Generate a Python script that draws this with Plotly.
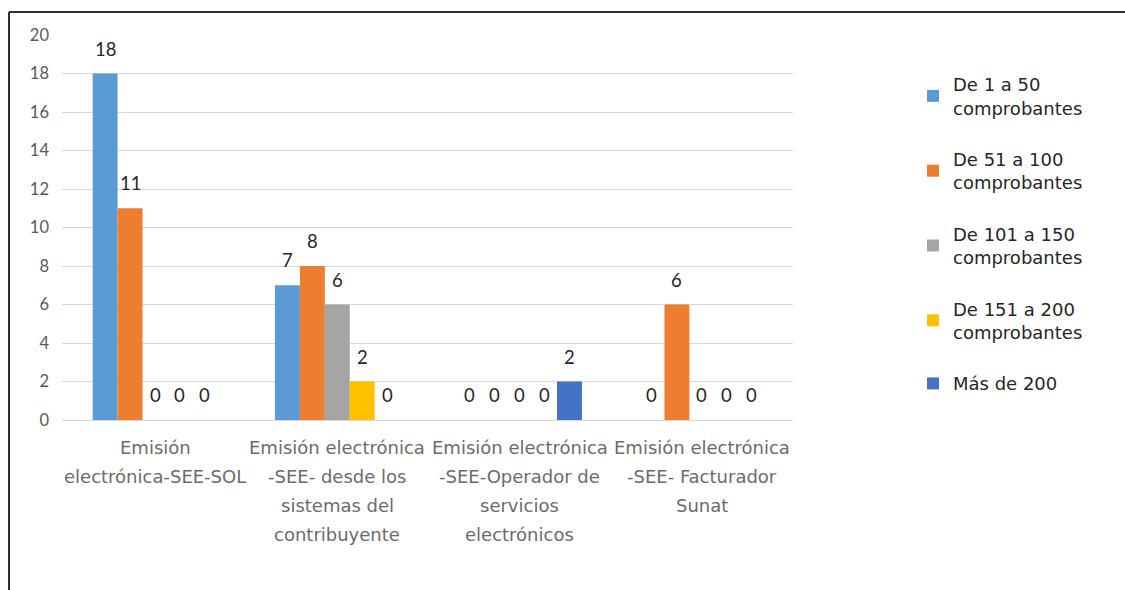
import plotly.graph_objects as go

# Categories (each entry split into the lines it is printed on)
categorias = ["SEE-SOL", "Contribuyente", "OSE", "Facturador"]
categoria_lineas = [
    ["Emisión", "electrónica-SEE-SOL"],
    ["Emisión electrónica", "-SEE- desde los", "sistemas del", "contribuyente"],
    ["Emisión electrónica", "-SEE-Operador de", "servicios", "electrónicos"],
    ["Emisión electrónica", "-SEE- Facturador", "Sunat"],
]

# Series
series_nombres = [
    "De 1 a 50<br>comprobantes",
    "De 51 a 100<br>comprobantes",
    "De 101 a 150<br>comprobantes",
    "De 151 a 200<br>comprobantes",
    "Más de 200",
]
de_1_a_50 = [18, 7, 0, 0]
de_51_a_100 = [11, 8, 0, 6]
de_101_a_150 = [0, 6, 0, 0]
de_151_a_200 = [0, 2, 0, 0]
mas_de_200 = [0, 0, 2, 0]
series_valores = [de_1_a_50, de_51_a_100, de_101_a_150, de_151_a_200, mas_de_200]
colores = ["#5B9BD5", "#ED7D31", "#A5A5A5", "#FFC000", "#4472C4"]

y_ticks = [0, 2, 4, 6, 8, 10, 12, 14, 16, 18, 20]

NUM_FONT = "Lato"
TXT_FONT = "DejaVu Sans"
W, H = 1125, 590
L, R, T, B = 62, 332, 35, 170
BARGAP = 0.316

fig = go.Figure()
for i, (nombre, vals, col) in enumerate(zip(series_nombres, series_valores, colores)):
    fig.add_trace(go.Bar(
        x=categorias, y=vals, name=nombre,
        marker=dict(color=col, line=dict(width=0)),
        legendgroup=f"g{i}",
    ))

# Value labels above each bar, positioned on the grouped-bar offsets
n = len(series_valores)
grupo = 1 - BARGAP
for i, vals in enumerate(series_valores):
    off = -grupo / 2 + (i + 0.5) * grupo / n
    for j, v in enumerate(vals):
        fig.add_annotation(
            x=j + off, y=v, xref="x", yref="y", text=str(v),
            showarrow=False, yshift=25,
            font=dict(family=NUM_FONT, size=18.5, color="#262626"),
        )

# Category labels, one annotation per printed line
for j, lineas in enumerate(categoria_lineas):
    for k, linea in enumerate(lineas):
        fig.add_annotation(
            x=j, y=0, xref="x", yref="y", text=linea,
            showarrow=False, yshift=-27 - 29 * k,
            font=dict(family=TXT_FONT, size=18, color="#6B6B6B"),
        )

# Outer frame (top and left edges)
pw, ph = W - L - R, H - T - B
def px_x(p):
    return (p - L) / pw
def px_y(p):
    return (H - B - p) / ph
fig.add_shape(type="line", xref="paper", yref="paper",
              x0=px_x(9), x1=px_x(W + 5), y0=px_y(12), y1=px_y(12),
              line=dict(color="#303030", width=2))
fig.add_shape(type="line", xref="paper", yref="paper",
              x0=px_x(9), x1=px_x(9), y0=px_y(12), y1=px_y(H + 5),
              line=dict(color="#303030", width=2))

fig.update_layout(
    width=W, height=H,
    margin=dict(l=L, r=R, t=T, b=B),
    paper_bgcolor="white", plot_bgcolor="white",
    barmode="group", bargap=BARGAP, bargroupgap=0,
    font=dict(family=NUM_FONT, size=16, color="#595959"),
    showlegend=True,
    legend=dict(
        x=px_x(913), y=px_y(66), xanchor="left", yanchor="top",
        font=dict(family=TXT_FONT, size=18, color="#262626"),
        tracegroupgap=25, traceorder="grouped",
        bgcolor="rgba(0,0,0,0)",
    ),
    xaxis=dict(showticklabels=False, showgrid=False, zeroline=False,
               showline=False, ticks=""),
    yaxis=dict(range=[0, 20], tickvals=y_ticks, showgrid=True,
               gridcolor="#D9D9D9", gridwidth=1, zeroline=True,
               zerolinecolor="#D9D9D9", zerolinewidth=1, showline=False,
               ticks="", ticklabelstandoff=12,
               tickfont=dict(family=NUM_FONT, size=16.5, color="#595959")),
)

fig.write_html("out.html")
